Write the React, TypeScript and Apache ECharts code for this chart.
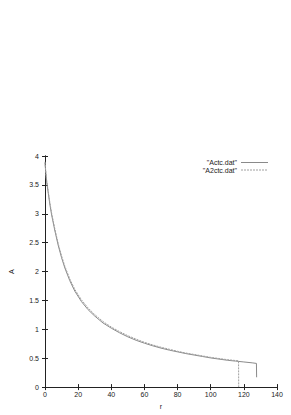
import React, { useEffect, useRef } from "react";
import * as echarts from "echarts";

const seriesNames = ['"Actc.dat"', '"A2ctc.dat"'];

const actcR = [0, 0.5, 1, 2, 3, 4, 6, 8, 10, 12, 15, 18, 22, 26, 30, 35, 40, 45, 50, 55, 60, 65, 70, 75, 80, 85, 90, 95, 100, 105, 110, 115, 120, 125, 127.6, 127.7];
const actcA = [3.88, 3.7, 3.55, 3.35, 3.15, 2.98, 2.7, 2.45, 2.24, 2.06, 1.84, 1.66, 1.48, 1.34, 1.23, 1.11, 1.02, 0.94, 0.87, 0.81, 0.76, 0.715, 0.675, 0.64, 0.61, 0.58, 0.555, 0.53, 0.505, 0.485, 0.465, 0.45, 0.435, 0.42, 0.41, 0.17];

const a2ctcR = [0, 0.5, 1, 2, 3, 4, 6, 8, 10, 12, 15, 18, 22, 26, 30, 35, 40, 45, 50, 55, 60, 65, 70, 75, 80, 85, 90, 95, 100, 105, 110, 115, 116.8, 116.9];
const a2ctcA = [3.9, 3.72, 3.58, 3.38, 3.18, 3.01, 2.73, 2.48, 2.27, 2.09, 1.87, 1.69, 1.51, 1.37, 1.255, 1.135, 1.04, 0.96, 0.89, 0.83, 0.775, 0.73, 0.69, 0.655, 0.62, 0.59, 0.565, 0.54, 0.515, 0.495, 0.475, 0.46, 0.455, 0];

const xTicks = [0, 20, 40, 60, 80, 100, 120, 140];
const yTicks = [0, 0.5, 1, 1.5, 2, 2.5, 3, 3.5, 4];

const zip = (xs: number[], ys: number[]) => xs.map((x, i) => [x, ys[i]]);

const colors = ["#8a8a8a", "#a0a0a0"];
const dashes: any[] = ["solid", [2, 1]];

export default function App() {
  const ref = useRef<HTMLDivElement>(null);
  useEffect(() => {
    if (!ref.current) return;
    const chart = echarts.init(ref.current, undefined, { renderer: "svg" });
    const font = "Liberation Sans, Arial, sans-serif";
    const axisCommon = {
      axisLine: { show: true, lineStyle: { color: "#222", width: 1 } },
      axisTick: { show: true, inside: true, length: 3, lineStyle: { color: "#222" } },
      splitLine: { show: false },
    };
    const legendGraphics: any[] = [];
    seriesNames.forEach((n, i) => {
      const y = 162.5 + i * 7.5;
      legendGraphics.push({
        type: "text",
        x: 237,
        y,
        style: { text: n, fontSize: 7, fontFamily: font, fill: "#222", align: "right", verticalAlign: "middle" },
      });
      legendGraphics.push({
        type: "line",
        shape: { x1: 241, y1: y, x2: 268, y2: y },
        style: { stroke: colors[i], lineWidth: 1, lineDash: i === 0 ? null : [2, 1] },
      });
    });
    chart.setOption({
      animation: false,
      backgroundColor: "#fff",
      grid: { left: 42, top: 156, width: 235, height: 234, containLabel: false },
      graphic: legendGraphics,
      xAxis: [
        {
          type: "value",
          min: 0,
          max: 140,
          interval: 20,
          name: "r",
          nameLocation: "middle",
          nameGap: 14,
          nameTextStyle: { fontSize: 7, fontFamily: font, color: "#222" },
          axisLabel: { fontSize: 7, fontFamily: font, color: "#222", margin: 4 },
          ...axisCommon,
        },
        {
          type: "value",
          position: "top",
          min: 0,
          max: 140,
          interval: 20,
          axisLabel: { show: false },
          ...axisCommon,
        },
      ],
      yAxis: [
        {
          type: "value",
          min: 0,
          max: 4,
          interval: 0.5,
          name: "A",
          nameLocation: "middle",
          nameGap: 30,
          nameRotate: 90,
          nameTextStyle: { fontSize: 7, fontFamily: font, color: "#222" },
          axisLabel: { fontSize: 7, fontFamily: font, color: "#222", margin: 6 },
          ...axisCommon,
        },
        {
          type: "value",
          position: "right",
          min: 0,
          max: 4,
          interval: 0.5,
          axisLabel: { show: false },
          ...axisCommon,
        },
      ],
      series: [
        {
          name: seriesNames[0],
          type: "line",
          data: zip(actcR, actcA),
          symbol: "none",
          lineStyle: { color: colors[0], width: 1, type: dashes[0] },
          itemStyle: { color: colors[0] },
        },
        {
          name: seriesNames[1],
          type: "line",
          data: zip(a2ctcR, a2ctcA),
          symbol: "none",
          lineStyle: { color: colors[1], width: 1, type: dashes[1] },
          itemStyle: { color: colors[1] },
        },
      ],
    });
    return () => chart.dispose();
  }, []);
  return (
    <div
      ref={ref}
      style={{ position: "fixed", left: 0, top: 0, width: 291, height: 415, background: "#fff" }}
    />
  );
}
